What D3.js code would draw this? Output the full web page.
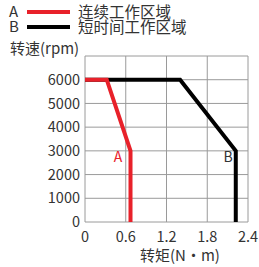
<!DOCTYPE html>
<html>
<head>
<meta charset="utf-8">
<script src="https://cdn.jsdelivr.net/npm/d3@7"></script>
<style>
  body { margin: 0; background: #fff; }
  text { font-family: "Noto Sans CJK SC", "Noto Sans", sans-serif; fill: #333; }
</style>
</head>
<body>
<div id="chart"></div>
<script>
var width = 259,
    height = 267;

// data
var xTicks = [0, 0.6, 1.2, 1.8, 2.4];
var yTicks = [0, 1000, 2000, 3000, 4000, 5000, 6000];
var curveA = [[0, 6000], [0.32, 6000], [0.67, 3000], [0.67, 0]];
var curveB = [[0, 6000], [1.4, 6000], [2.22, 3000], [2.22, 0]];
var legendNames = ["连续工作区域", "短时间工作区域"];
var legendKeys = ["A", "B"];
var colors = ["#e8212a", "#000000"];

var svg = d3.select("#chart")
    .append("svg")
    .attr("width", width)
    .attr("height", height);

var x = d3.scaleLinear().domain([0, 2.4]).range([85, 248]);
var y = d3.scaleLinear().domain([0, 7000]).range([222, 56]);

// grid
var grid = svg.append("g");
grid.selectAll(".vline")
    .data(xTicks)
    .enter().append("line")
      .attr("x1", function(d) { return x(d); })
      .attr("x2", function(d) { return x(d); })
      .attr("y1", y(0))
      .attr("y2", y(7000))
      .attr("stroke", "#9a9a9a")
      .attr("stroke-width", 1);
grid.selectAll(".hline")
    .data(yTicks.concat([7000]))
    .enter().append("line")
      .attr("x1", x(0))
      .attr("x2", x(2.4))
      .attr("y1", function(d) { return y(d); })
      .attr("y2", function(d) { return y(d); })
      .attr("stroke", "#9a9a9a")
      .attr("stroke-width", 1);

// tick labels
svg.selectAll(".ylab")
    .data(yTicks)
    .enter().append("text")
      .attr("x", 80)
      .attr("y", function(d) { return y(d); })
      .attr("dy", "0.35em")
      .attr("text-anchor", "end")
      .style("font-size", "14.5px")
      .text(function(d) { return d; });

svg.selectAll(".xlab")
    .data(xTicks)
    .enter().append("text")
      .attr("x", function(d) { return x(d); })
      .attr("y", 242)
      .attr("text-anchor", "middle")
      .style("font-size", "14.5px")
      .text(function(d) { return d; });

svg.append("text")
    .attr("x", 10)
    .attr("y", 54)
    .style("font-size", "15px")
    .text("转速(rpm)");

svg.append("text")
    .attr("x", 180)
    .attr("y", 261)
    .attr("text-anchor", "middle")
    .style("font-size", "15px")
    .text("转矩(N·m)");

// curves
var line = d3.line()
    .x(function(d) { return x(d[0]); })
    .y(function(d) { return y(d[1]); });

svg.append("path")
    .datum(curveB)
    .attr("d", line)
    .attr("fill", "none")
    .attr("stroke", colors[1])
    .attr("stroke-width", 4);

svg.append("path")
    .datum(curveA)
    .attr("d", line)
    .attr("fill", "none")
    .attr("stroke", colors[0])
    .attr("stroke-width", 4);

svg.append("text")
    .attr("x", 118)
    .attr("y", 162)
    .attr("text-anchor", "middle")
    .style("font-size", "14px")
    .style("fill", colors[0])
    .text("A");

svg.append("text")
    .attr("x", 228)
    .attr("y", 162)
    .attr("text-anchor", "middle")
    .style("font-size", "14px")
    .text("B");

// legend
var legend = svg.selectAll(".legend")
    .data(legendNames)
    .enter().append("g")
      .attr("transform", function(d, i) { return "translate(0," + (12 + i * 15) + ")"; });

legend.append("text")
    .attr("x", 9)
    .attr("dy", "0.36em")
    .style("font-size", "15px")
    .text(function(d, i) { return legendKeys[i]; });

legend.append("line")
    .attr("x1", 27)
    .attr("x2", 70)
    .attr("stroke", function(d, i) { return colors[i]; })
    .attr("stroke-width", 4);

legend.append("text")
    .attr("x", 78)
    .attr("dy", "0.36em")
    .style("font-size", "15.5px")
    .text(function(d) { return d; });
</script>
</body>
</html>
